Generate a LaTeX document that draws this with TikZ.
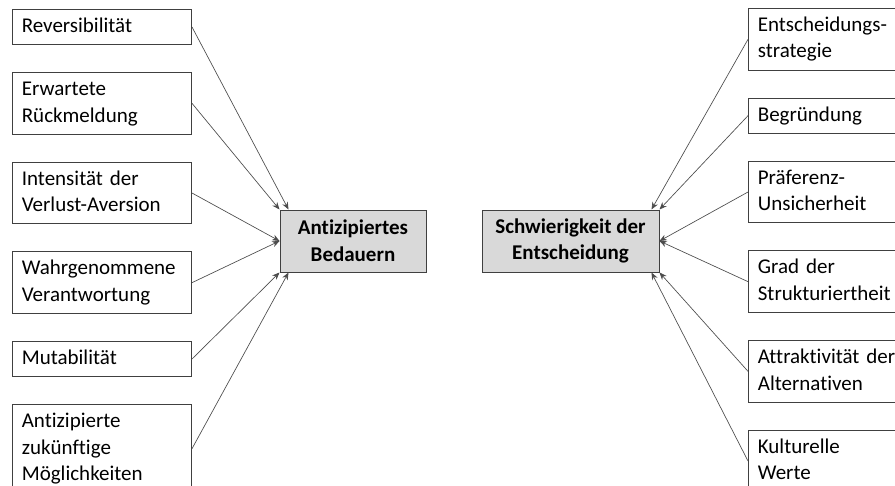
\documentclass[tikz,border=0pt]{standalone}
\usepackage{fontspec}
\setmainfont{Carlito}[Ligatures=NoCommon]
\usetikzlibrary{arrows.meta,positioning}

\begin{document}
\begin{tikzpicture}[->,>={Stealth[length=5.5pt,width=4.5pt]},x=0.75pt,y=-0.75pt,
                    node distance=20.25pt]
  \tikzstyle{factor}=[draw=black!75,line width=0.75pt,fill=white,align=left,
                      text width=120.25pt,inner xsep=7pt,inner ysep=3.125pt,
                      font=\fontsize{15.75}{20}\selectfont,
                      execute at begin node=\strut,execute at end node=\strut]
  \tikzstyle{effect}=[draw=black!75,line width=0.75pt,fill=black!15,align=center,
                      minimum height=46.5pt,inner sep=2pt,
                      font=\bfseries\fontsize{15.75}{20}\selectfont]
  \tikzstyle{every edge}=[draw,black!70,line width=0.5pt]

  \clip (0,0) rectangle (895,485);

  % linke Spalte
  \node[factor,anchor=north west] (rev) at (12,9)   {Reversibilität};
  \node[factor] (rueck)  [below=of rev]    {Erwartete\\Rückmeldung};
  \node[factor] (inten)  [below=of rueck]  {Intensität der\\Verlust-Aversion};
  \node[factor] (verant) [below=of inten]  {Wahrgenommene\\Verantwortung};
  \node[factor] (mutab)  [below=of verant] {Mutabilität};
  \node[factor] (moegl)  [below=of mutab]  {Antizipierte\\zukünftige\\Möglichkeiten};

  % Mitte
  \node[effect,minimum width=109.5pt] (bedauern) at (353,241) {Antizipiertes\\Bedauern};
  \node[effect,minimum width=132.75pt] (schwierig) [right=41.25pt of bedauern]
        {Schwierigkeit der\\Entscheidung};

  % rechte Spalte
  \node[factor,anchor=north west] (strat) at (748,8) {Entscheidungs-\\strategie};
  \node[factor] (begr)   [below=of strat]  {Begründung};
  \node[factor] (praef)  [below=of begr]   {Präferenz-\\Unsicherheit};
  \node[factor] (strukt) [below=of praef]  {Grad der\\Strukturiertheit};
  \node[factor] (attr)   [below=of strukt] {Attraktivität der\\Alternativen};
  \node[factor] (kult)   [below=of attr]   {Kulturelle\\Werte};

  \path (rev.east)    edge ([xshift=6.75pt]bedauern.north west)
        (rueck.east)  edge (bedauern.north west)
        (inten.east)  edge (bedauern.west)
        (verant.east) edge (bedauern.west)
        (mutab.east)  edge (bedauern.south west)
        (moegl.east)  edge ([xshift=6.75pt]bedauern.south west)
        (strat.west)  edge ([xshift=-6pt]schwierig.north east)
        (begr.west)   edge (schwierig.north east)
        (praef.west)  edge (schwierig.east)
        (strukt.west) edge (schwierig.east)
        (attr.west)   edge (schwierig.south east)
        (kult.west)   edge ([xshift=-6pt]schwierig.south east);
\end{tikzpicture}
\end{document}
